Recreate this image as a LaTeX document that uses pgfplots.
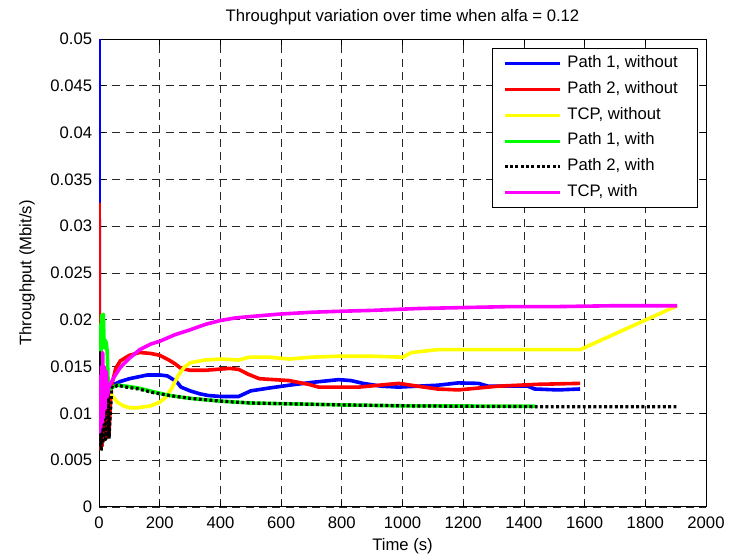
\documentclass[border=0pt]{standalone}
\usepackage{fontspec}
\setmainfont{Liberation Sans}
\usepackage{pgfplots}
\pgfplotsset{compat=1.18}
\definecolor{mblue}{RGB}{0,0,255}
\definecolor{mred}{RGB}{255,0,0}
\definecolor{myellow}{RGB}{255,255,0}
\definecolor{mgreen}{RGB}{0,255,0}
\definecolor{mmagenta}{RGB}{255,0,255}
\newcommand{\lentry}[1]{\makebox[89.5pt][l]{#1}}
\begin{document}
\fontsize{12.5}{15}\selectfont
\begin{tikzpicture}
\path[use as bounding box] (-74.25pt,-34.7pt) rectangle (485pt,380pt);
\begin{axis}[
  at={(0,0)}, anchor=south west,
  scale only axis, width=455pt, height=350.75pt,
  xmin=0, xmax=2000, ymin=0, ymax=0.05,
  xtick={0,200,400,600,800,1000,1200,1400,1600,1800,2000},
  ytick={0,0.005,0.01,0.015,0.02,0.025,0.03,0.035,0.04,0.045,0.05},
  scaled y ticks=false, scaled x ticks=false,
  /pgf/number format/.cd, fixed, precision=3, 1000 sep={}, assume math mode=true,
  /pgfplots/.cd,
  tick align=inside, major tick length=4.5pt,
  tick style={black, line width=0.6pt},
  grid=major,
  major grid style={black!85, line width=0.5pt, dash pattern=on 6pt off 4pt},
  axis line style={line width=0.6pt},
  xticklabel style={yshift=-3.3pt},
  yticklabel style={xshift=-0.8pt},
  title={Throughput variation over time when alfa = 0.12},
  every axis title/.style={at={(axis description cs:0.5,1)}, anchor=base, yshift=12.9pt},
  xlabel={Time (s)},
  every axis x label/.style={at={(axis description cs:0.5,0)}, anchor=base, yshift=-32.5pt},
  ylabel={Throughput (Mbit/s)},
  every axis y label/.style={at={(axis description cs:-0.1187,0.5)}, anchor=center, rotate=90},
  legend image code/.code={\draw[#1, line width=2.2pt] (0pt,0pt) -- (41.5pt,0pt);},
  legend style={at={(1,1)}, anchor=north east, xshift=-5.8pt, yshift=-7pt,
    draw=black, line width=0.6pt, inner xsep=8.25pt, inner ysep=5.7pt,
    row sep=8.1pt, column sep=4.5pt,
    nodes={inner sep=0pt, text height=8.5pt, text depth=2.7pt, anchor=west},
    cells={anchor=west}},
  every axis plot/.append style={line join=round},
]
% Path 1, without
\addplot[mblue, line width=2.7pt] coordinates {
(0,0.05) (1,0.0125) (10,0.012) (20,0.0125) (30,0.0128) (50,0.0131) (70,0.0134)
(100,0.0137) (130,0.0139) (160,0.0141) (200,0.0141) (225,0.014) (240,0.0137)
(255,0.0134) (270,0.0128) (300,0.0124) (330,0.0121) (360,0.0119) (400,0.0118)
(460,0.0118) (480,0.0121) (500,0.0124) (560,0.0127) (626,0.0130) (700,0.0133)
(790,0.0136) (830,0.0135) (870,0.0132) (930,0.0129) (987,0.0128) (1050,0.0129)
(1115,0.0130) (1184,0.01325) (1250,0.0132) (1282,0.0129) (1413,0.0129)
(1435,0.0126) (1512,0.0125) (1585,0.0126)
};
\addlegendentry{\lentry{Path 1, without}}
% Path 2, without
\addplot[mred, line width=2.7pt] coordinates {
(0,0.0325) (1,0.0062) (5,0.0095) (10,0.0065) (15,0.011) (20,0.0072) (28,0.012)
(32,0.0075) (40,0.0128) (55,0.0148) (70,0.0156) (100,0.0162) (134,0.0165)
(170,0.0164) (200,0.0162) (230,0.0157) (250,0.0153) (270,0.0148) (300,0.0146)
(350,0.0146) (430,0.0148) (460,0.0147) (490,0.0142) (528,0.0137) (626,0.0135)
(690,0.0131) (724,0.0128) (856,0.0128) (987,0.0132) (1050,0.0129) (1115,0.0126)
(1184,0.0125) (1315,0.0129) (1446,0.0131) (1585,0.0132)
};
\addlegendentry{\lentry{Path 2, without}}
% TCP, without
\addplot[myellow, line width=2.7pt] coordinates {
(5,0.0125) (20,0.0122) (40,0.0120) (60,0.0112) (80,0.0108) (100,0.0106)
(130,0.0106) (170,0.0108) (200,0.0112) (220,0.0117) (240,0.0127) (260,0.0140)
(280,0.0149) (300,0.0154) (350,0.0157) (400,0.0158) (460,0.0157) (495,0.0160)
(560,0.0160) (626,0.0158) (700,0.0160) (790,0.0161) (900,0.0161) (1000,0.0160)
(1030,0.0165) (1115,0.0168) (1300,0.0168) (1585,0.0168) (1905,0.0215)
};
\addlegendentry{\lentry{TCP, without}}
% Path 1, with
\addplot[mgreen, line width=2.7pt] coordinates {
(0,0.0195) (2,0.0150) (4,0.0195) (6,0.0160) (9,0.0205) (12,0.0195) (14,0.0206)
(17,0.0170) (20,0.0178) (24,0.0175) (27,0.0165) (30,0.0132) (35,0.0125)
(45,0.0128) (60,0.0130) (90,0.0129) (130,0.0127) (180,0.0123) (233,0.0119)
(300,0.0116) (400,0.0113) (500,0.0111) (650,0.0110) (800,0.0109) (1000,0.0108)
(1200,0.01078) (1436,0.01075)
};
\addlegendentry{\lentry{Path 1, with}}
% Path 2, with
\addplot[black, line width=2.4pt, dash pattern=on 2.2pt off 1.8pt] coordinates {
(0,0.0065) (3,0.0165) (7,0.0060) (10,0.0095) (13,0.0068) (18,0.0125) (22,0.0072)
(30,0.0125) (33,0.0073) (42,0.0128) (50,0.0127) (60,0.0130) (90,0.0128)
(130,0.0126) (180,0.0122) (233,0.0119) (300,0.0116) (400,0.0113) (500,0.0111)
(650,0.0110) (800,0.0109) (1000,0.0108) (1200,0.01075) (1500,0.0107) (1903,0.0107)
};
\addlegendentry{\lentry{Path 2, with}}
% TCP, with
\addplot[mmagenta, line width=2.7pt] coordinates {
(0,0.0135) (2,0.0080) (4,0.0140) (6,0.0085) (8,0.0150) (10,0.0090) (12,0.0165)
(14,0.0095) (17,0.0150) (20,0.0105) (24,0.0145) (28,0.0118) (32,0.0128)
(40,0.0133) (52,0.0140) (70,0.0149) (97,0.0158) (134,0.0168) (170,0.0174)
(200,0.0177) (250,0.0184) (298,0.0189) (350,0.0195) (397,0.0199) (450,0.0202)
(520,0.0204) (593,0.0206) (700,0.0208) (790,0.0209) (900,0.0210) (1052,0.0212)
(1200,0.0213) (1347,0.0214) (1500,0.0214) (1700,0.0215) (1905,0.0215)
};
\addlegendentry{\lentry{TCP, with}}
\end{axis}
\end{tikzpicture}
\end{document}
